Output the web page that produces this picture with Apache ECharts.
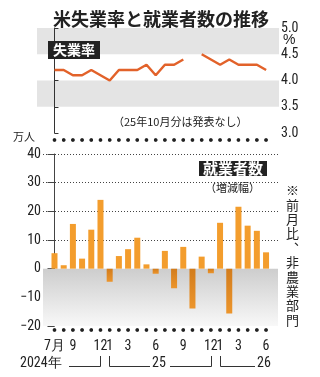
<!DOCTYPE html>
<html>
<head>
<meta charset="utf-8">
<script src="https://cdn.jsdelivr.net/npm/echarts@6/dist/echarts.min.js"></script>
<style>
  html, body { margin: 0; padding: 0; background: #fff; }
  #chart { width: 320px; height: 377px; }
</style>
</head>
<body>
<div id="chart"></div>
<script>
// months from 2024/7 to 2026/6, only some get a label
const months = ['7月', '', '9', '', '', '12', '1', '', '3', '', '', '6',
                '', '', '9', '', '', '12', '1', '', '3', '', '', '6'];
// unemployment rate (%), 2025/10 not published
const unemployment = [4.2, 4.2, 4.1, 4.1, 4.2, 4.1, 4.0, 4.2, 4.2, 4.2, 4.3, 4.1,
                      4.3, 4.3, 4.4, null, 4.5, 4.4, 4.3, 4.4, 4.3, 4.3, 4.3, 4.2];
// nonfarm payrolls, change from previous month (万人)
const payrolls = [5.4, 1.2, 15.6, 3.5, 13.6, 24.0, -4.6, 4.4, 6.8, 10.8, 1.5, -1.8,
                  6.2, -6.8, 7.6, -13.9, 4.2, -1.6, 16.0, -15.6, 21.6, 15.0, 13.2, 5.7];
const years = ['2024年', '25', '26'];

const JP = '"Noto Sans CJK JP", sans-serif';
const NUM = '"Liberation Sans Narrow", "Roboto Condensed", "Liberation Sans", sans-serif';
const INK = '#222';

// month marker rows sit just outside the bar plot (axis units)
const DOT_TOP = 44.9;
const DOT_BOTTOM = -21.4;

const labelIdx = months.map((m, i) => (m ? i : -1)).filter((i) => i >= 0);

const barData = payrolls.map((v, i) => ({
  value: [i, v],
  itemStyle: v < 0
    ? { color: new echarts.graphic.LinearGradient(0, 0, 0, 1, [
        { offset: 0, color: '#d27c1c' },
        { offset: 1, color: '#ec952c' },
      ]) }
    : { color: '#f39d2d' },
}));

const dotData = [];
months.forEach((m, i) => {
  dotData.push([i, DOT_TOP]);
  dotData.push([i, DOT_BOTTOM]);
});

const text = (left, top, style) => ({ type: 'text', left, top, z: 100, style: { fill: INK, ...style } });
const bracket = (points) => ({
  type: 'polyline', z: 100, shape: { points },
  style: { stroke: '#333', fill: null, lineWidth: 1 },
});

const option = {
  animationDuration: 1,
  animationDurationUpdate: 1,
  title: {
    text: '米失業率と就業者数の推移',
    left: 48,
    top: 5,
    textStyle: { fontFamily: JP, fontSize: 18, fontWeight: 'bold', color: INK },
  },
  grid: [
    { left: 37, right: 41, top: 28, height: 105 },
    { left: 43, right: 42, top: 154, height: 172 },
  ],
  xAxis: [
    { type: 'value', gridIndex: 0, min: -1.9, max: 24.4, show: false },
    {
      type: 'value',
      gridIndex: 1,
      min: -1.25,
      max: 24.3,
      axisLine: { show: false },
      axisTick: { show: false },
      splitLine: { show: false },
      axisLabel: {
        customValues: labelIdx,
        formatter: (v) => months[Math.round(v)],
        fontFamily: NUM,
        fontSize: 14,
        color: INK,
        margin: 13,
      },
    },
  ],
  yAxis: [
    {
      type: 'value',
      gridIndex: 0,
      position: 'right',
      min: 3,
      max: 5,
      interval: 0.5,
      axisLine: { show: true, lineStyle: { color: '#333', width: 1 } },
      axisTick: { show: true, length: 4, lineStyle: { color: '#333' } },
      axisLabel: {
        formatter: (v) => v.toFixed(1),
        fontFamily: NUM,
        fontSize: 14,
        color: INK,
        margin: 2,
      },
      splitLine: { show: false },
      splitArea: { show: true, areaStyle: { color: ['rgba(0,0,0,0)', '#e4e4e4'] } },
    },
    {
      type: 'value',
      gridIndex: 1,
      min: -20,
      max: 40,
      interval: 10,
      axisLine: { show: true, lineStyle: { color: '#444', width: 1 } },
      axisTick: { show: true, length: 7, lineStyle: { color: '#444' } },
      axisLabel: {
        formatter: (v) => (v < 0 ? '−' + Math.abs(v) : String(v)),
        fontFamily: NUM,
        fontSize: 14,
        color: INK,
        margin: 2,
      },
      splitLine: {
        show: true,
        lineStyle: {
          type: [1, 2],
          width: 1,
          color: ['rgba(0,0,0,0)', '#444', 'rgba(0,0,0,0)', '#444', '#444', '#444', '#444'],
        },
      },
    },
  ],
  series: [
    {
      type: 'line',
      xAxisIndex: 0,
      yAxisIndex: 0,
      data: unemployment.map((v, i) => [i, v]),
      connectNulls: false,
      symbol: 'none',
      lineStyle: { color: '#e2622a', width: 2.5 },
      z: 3,
    },
    {
      type: 'bar',
      xAxisIndex: 1,
      yAxisIndex: 1,
      data: barData,
      barWidth: 6,
      z: 3,
      // gray shade under zero
      markArea: {
        silent: true,
        z: 1,
        itemStyle: {
          color: new echarts.graphic.LinearGradient(0, 0, 0, 1, [
            { offset: 0, color: '#cdcdcd' },
            { offset: 1, color: '#f8f8f8' },
          ]),
        },
        data: [[{ yAxis: 0 }, { yAxis: -20 }]],
      },
    },
    {
      // month marker dots
      type: 'scatter',
      xAxisIndex: 1,
      yAxisIndex: 1,
      data: dotData,
      symbolSize: 3.6,
      itemStyle: { color: INK },
      clip: false,
      z: 5,
    },
    {
      // same dots again through a custom series, in case symbols are dropped
      type: 'custom',
      xAxisIndex: 1,
      yAxisIndex: 1,
      data: dotData,
      clip: false,
      z: 5,
      renderItem: (params, api) => {
        const p = api.coord([api.value(0), api.value(1)]);
        return { type: 'circle', shape: { cx: p[0], cy: p[1], r: 1.8 }, style: { fill: INK } };
      },
    },
  ],
  graphic: [
    text(48, 41, {
      text: '失業率', fill: '#fff', backgroundColor: '#222', padding: [2, 5],
      font: 'bold 14px "Noto Sans CJK JP", sans-serif',
    }),
    text(283, 33, { text: '%', font: '14px "Liberation Sans", sans-serif' }),
    text(113, 116, { text: '（25年10月分は発表なし）', font: '11px "Noto Sans CJK JP", sans-serif' }),
    text(13, 131, { text: '万人', font: '11px "Noto Sans CJK JP", sans-serif' }),
    text(199, 161, {
      text: '就業者数', fill: '#fff', backgroundColor: '#222', padding: [0, 4],
      font: 'bold 15px "Noto Sans CJK JP", sans-serif',
    }),
    text(205, 182, { text: '（増減幅）', font: '11px "Noto Sans CJK JP", sans-serif' }),
    text(286, 183, {
      text: '※前月比︑非農業部門'.split('').join('\n'),
      lineHeight: 14.4,
      font: '13px "Noto Sans CJK JP", sans-serif',
    }),
    text(20, 356, { text: years[0], font: '14px ' + NUM }),
    text(152, 356, { text: years[1], font: '14px ' + NUM }),
    text(257, 356, { text: years[2], font: '14px ' + NUM }),
    bracket([[69, 366.5], [100.5, 366.5], [100.5, 356]]),
    bracket([[109.5, 356], [109.5, 366.5], [150, 366.5]]),
    bracket([[170, 366.5], [211.5, 366.5], [211.5, 356]]),
    bracket([[220.5, 356], [220.5, 366.5], [255, 366.5]]),
  ],
};

const myChart = echarts.init(document.getElementById('chart'));
myChart.setOption(option);
</script>
</body>
</html>
